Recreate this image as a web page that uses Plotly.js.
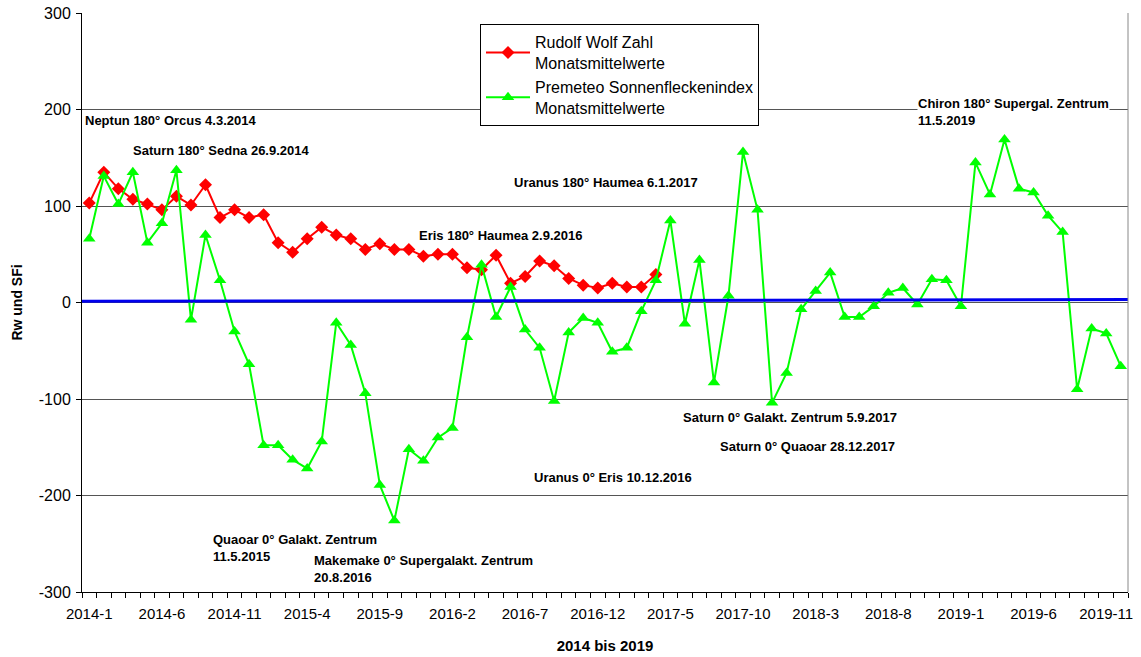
<!DOCTYPE html>
<html lang="de">
<head>
  <meta charset="UTF-8">
  <title>Rudolf Wolf Zahl und Premeteo Sonnenfleckenindex 2014 bis 2019</title>
  <script src="https://cdn.plot.ly/plotly-3.0.1.min.js"></script>
  <style>
    body { margin: 0; background: #ffffff; }
    #chart { width: 1141px; height: 657px; }
  </style>
</head>
<body>
  <div id="chart"></div>

  <script>
    // Monate 2014-1 bis 2019-12
    const months = [
      '2014-1','2014-2','2014-3','2014-4','2014-5','2014-6','2014-7','2014-8','2014-9','2014-10','2014-11','2014-12',
      '2015-1','2015-2','2015-3','2015-4','2015-5','2015-6','2015-7','2015-8','2015-9','2015-10','2015-11','2015-12',
      '2016-1','2016-2','2016-3','2016-4','2016-5','2016-6','2016-7','2016-8','2016-9','2016-10','2016-11','2016-12',
      '2017-1','2017-2','2017-3','2017-4','2017-5','2017-6','2017-7','2017-8','2017-9','2017-10','2017-11','2017-12',
      '2018-1','2018-2','2018-3','2018-4','2018-5','2018-6','2018-7','2018-8','2018-9','2018-10','2018-11','2018-12',
      '2019-1','2019-2','2019-3','2019-4','2019-5','2019-6','2019-7','2019-8','2019-9','2019-10','2019-11','2019-12'
    ];

    // beschriftete Monate auf der x-Achse
    const tickLabels = ['2014-1','2014-6','2014-11','2015-4','2015-9','2016-2','2016-7','2016-12',
                        '2017-5','2017-10','2018-3','2018-8','2019-1','2019-6','2019-11'];

    // y-Achse (mit normalem Bindestrich wie im Original)
    const yTicks = [-300, -200, -100, 0, 100, 200, 300];
    const yTickLabels = ['-300', '-200', '-100', '0', '100', '200', '300'];

    // Rudolf Wolf Zahl, Monatsmittelwerte (bis 2017-4)
    const wolfZahl = [103,135,118,107,102,96,110,101,122,88,96,88,91,62,52,66,78,70,66,55,
                      61,55,55,48,50,50,36,34,49,20,27,43,38,25,18,15,20,16,16,29];

    // Premeteo Sonnenfleckenindex, Monatsmittelwerte
    const premeteoSFi = [66,131,102,135,62,82,137,-18,70,23,-30,-64,
                         -148,-148,-163,-172,-144,-21,-44,-94,-189,-226,-152,-164,
                         -140,-130,-36,39,-15,16,-28,-47,-102,-31,-16,-21,
                         -51,-47,-9,23,85,-22,44,-83,7,156,96,-104,
                         -73,-7,12,31,-15,-15,-4,10,15,-2,24,23,
                         -4,145,112,169,118,114,90,73,-90,-27,-32,-66];

    // Trendlinie (Anfang, Ende)
    const trendLine = [1.2, 3.0];

    const idx = arr => arr.map((_, i) => i);

    const traces = [
      {
        x: idx(wolfZahl), y: wolfZahl,
        type: 'scatter', mode: 'lines+markers',
        name: 'Rudolf Wolf Zahl<br>Monatsmittelwerte',
        line: { color: '#ff0000', width: 2 },
        marker: { symbol: 'diamond', size: 10, color: '#ff0000' }
      },
      {
        x: idx(premeteoSFi), y: premeteoSFi,
        type: 'scatter', mode: 'lines+markers',
        name: 'Premeteo Sonnenfleckenindex<br>Monatsmittelwerte',
        line: { color: '#00ff00', width: 2 },
        marker: { symbol: 'triangle-up', size: 11, color: '#00ff00' }
      },
      {
        x: [-0.5, months.length - 0.5], y: trendLine,
        type: 'scatter', mode: 'lines',
        showlegend: false, hoverinfo: 'skip',
        line: { color: '#0000ee', width: 3 }
      }
    ];

    const bold = { family: 'Arial, "Liberation Sans", sans-serif', size: 13, color: '#000' };
    function note(text, x, y) {
      return { text: '<b>' + text + '</b>', x: x, y: y, xref: 'paper', yref: 'paper',
               xanchor: 'left', yanchor: 'middle', align: 'left', showarrow: false,
               font: bold, borderpad: 0 };
    }

    const annotations = [
      note('Neptun 180° Orcus 4.3.2014', 0.002, 0.815),
      note('Saturn 180° Sedna 26.9.2014', 0.0475, 0.762),
      note('Uranus 180° Haumea 6.1.2017', 0.412, 0.7065),
      note('Eris 180° Haumea 2.9.2016', 0.321, 0.615),
      Object.assign(note('Chiron 180° Supergal. Zentrum<br>11.5.2019', 0.7986, 0.8286), { bgcolor: '#ffffff' }),
      note('Saturn 0° Galakt. Zentrum 5.9.2017', 0.5736, 0.3016),
      note('Saturn 0° Quaoar 28.12.2017', 0.609, 0.2508),
      note('Uranus 0° Eris 10.12.2016', 0.4309, 0.198),
      note('Quaoar 0° Galakt. Zentrum<br>11.5.2015', 0.1246, 0.076),
      note('Makemake 0° Supergalakt. Zentrum<br>20.8.2016', 0.2206, 0.0397)
    ];

    const layout = {
      width: 1141, height: 657,
      margin: { l: 82, r: 13, t: 13, b: 65 },
      paper_bgcolor: '#ffffff', plot_bgcolor: '#ffffff',
      font: { family: 'Arial, "Liberation Sans", sans-serif', color: '#000' },
      showlegend: true,
      legend: {
        x: 0.3805, y: 0.9805, xanchor: 'left', yanchor: 'top',
        bgcolor: '#ffffff', bordercolor: '#000', borderwidth: 1,
        font: { size: 16 }, tracegroupgap: 0, itemwidth: 44
      },
      xaxis: {
        range: [-0.5, months.length - 0.5],
        tickmode: 'array',
        tickvals: tickLabels.map(l => months.indexOf(l)),
        ticktext: tickLabels,
        ticks: '',
        tickfont: { size: 15 },
        ticklabelstandoff: 8,
        minor: { tickmode: 'linear', tick0: -0.5, dtick: 1, ticks: 'outside', ticklen: 5, tickcolor: '#000', showgrid: false },
        showgrid: false, zeroline: false,
        showline: true, linecolor: '#000', linewidth: 1,
        title: { text: '<b>2014 bis 2019</b>', font: { size: 15 }, standoff: 19 }
      },
      yaxis: {
        range: [-300, 300],
        tickmode: 'array', tickvals: yTicks, ticktext: yTickLabels,
        ticks: 'outside', ticklen: 5, tickcolor: '#000',
        tickfont: { size: 16 },
        ticklabelstandoff: 2,
        showgrid: true, gridcolor: '#555', gridwidth: 1,
        zeroline: false,
        showline: true, linecolor: '#000', linewidth: 1,
        title: { text: '<b>Rw und SFi</b>', font: { size: 14 }, standoff: 12 }
      },
      shapes: [
        { type: 'line', xref: 'paper', yref: 'paper', x0: 1, x1: 1, y0: 0, y1: 1,
          line: { color: '#888', width: 1 } }
      ],
      annotations: annotations
    };

    Plotly.newPlot('chart', traces, layout, { displayModeBar: false, staticPlot: true });
  </script>
</body>
</html>
